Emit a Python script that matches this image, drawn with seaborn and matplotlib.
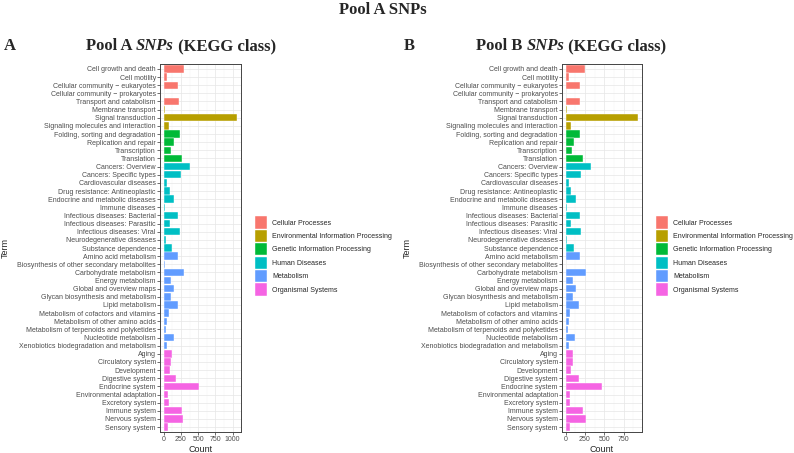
import matplotlib.pyplot as plt
import numpy as np
import pandas as pd
import seaborn as sns
from matplotlib.patches import Patch
from matplotlib.ticker import MultipleLocator

# KEGG class terms, in plotting order (top to bottom)
cellular = ["Cell growth and death", "Cell motility", "Cellular community \u2212 eukaryotes",
            "Cellular community \u2212 prokaryotes", "Transport and catabolism"]
environmental = ["Membrane transport", "Signal transduction", "Signaling molecules and interaction"]
genetic = ["Folding, sorting and degradation", "Replication and repair", "Transcription", "Translation"]
human = ["Cancers: Overview", "Cancers: Specific types", "Cardiovascular diseases",
         "Drug resistance: Antineoplastic", "Endocrine and metabolic diseases", "Immune diseases",
         "Infectious diseases: Bacterial", "Infectious diseases: Parasitic", "Infectious diseases: Viral",
         "Neurodegenerative diseases", "Substance dependence"]
metabolism = ["Amino acid metabolism", "Biosynthesis of other secondary metabolites",
              "Carbohydrate metabolism", "Energy metabolism", "Global and overview maps",
              "Glycan biosynthesis and metabolism", "Lipid metabolism",
              "Metabolism of cofactors and vitamins", "Metabolism of other amino acids",
              "Metabolism of terpenoids and polyketides", "Nucleotide metabolism",
              "Xenobiotics biodegradation and metabolism"]
organismal = ["Aging", "Circulatory system", "Development", "Digestive system", "Endocrine system",
              "Environmental adaptation", "Excretory system", "Immune system", "Nervous system",
              "Sensory system"]

class_names = ["Cellular Processes", "Environmental Information Processing",
               "Genetic Information Processing", "Human Diseases", "Metabolism", "Organismal Systems"]
class_terms = [cellular, environmental, genetic, human, metabolism, organismal]

# counts
counts_a = [300, 50, 208, 8, 227,
            15, 1068, 78,
            237, 145, 112, 271,
            377, 246, 53, 87, 150, 15, 208, 87, 242, 29, 116,
            208, 15, 300, 107, 155, 102, 208, 73, 53, 29, 155, 53,
            126, 112, 87, 179, 512, 63, 73, 261, 280, 68]
counts_b = [248, 47, 188, 6, 192,
            13, 940, 73,
            188, 111, 85, 222,
            333, 205, 47, 68, 137, 13, 184, 73, 200, 21, 107,
            188, 8, 265, 90, 132, 90, 171, 56, 38, 26, 124, 43,
            98, 94, 73, 171, 466, 51, 60, 222, 261, 60]

colors = ["#F8766D", "#B79F00", "#00BA38", "#00BFC4", "#619CFF", "#F564E3"]

terms = [t for group in class_terms for t in group]
classes = [c for c, group in zip(class_names, class_terms) for _ in group]
palette = dict(zip(class_names, colors))

sns.set_theme(style="whitegrid")
plt.rcParams["font.family"] = ["Liberation Sans", "DejaVu Sans"]

W, H = 794, 453
fig = plt.figure(figsize=(W / 100, H / 100), dpi=100)


def px(x0, y0, x1, y1):
    """pixel box -> figure fraction rect"""
    return [x0 / W, 1 - y1 / H, (x1 - x0) / W, (y1 - y0) / H]


def draw_panel(rect, counts, term_x):
    ax = fig.add_axes(rect)
    df = pd.DataFrame({"Term": terms, "Count": counts, "Class": classes})
    sns.barplot(data=df, x="Count", y="Term", hue="Class", order=terms,
                hue_order=class_names, palette=palette, dodge=False, width=0.9,
                saturation=1, edgecolor="white", linewidth=0.3, legend=False, ax=ax)
    top = max(counts)
    ax.set_xlim(-0.05 * top, top * 1.05)
    ax.set_ylim(len(terms) - 0.4, -0.6)
    ax.xaxis.set_major_locator(MultipleLocator(250))
    ax.xaxis.set_minor_locator(MultipleLocator(125))
    ax.grid(True, which="major", color="#E6E6E6", lw=0.5)
    ax.grid(True, which="minor", axis="x", color="#F2F2F2", lw=0.3)
    ax.set_axisbelow(True)
    for s in ax.spines.values():
        s.set_color("#444444")
        s.set_linewidth(0.7)
    ax.tick_params(axis="both", which="major", length=2, width=0.5, color="#333333",
                   labelsize=5, labelcolor="#4D4D4D", pad=1, bottom=True, left=True)
    ax.tick_params(axis="both", which="minor", length=0)
    ax.set_xlabel("Count", fontsize=6.5, labelpad=1)
    ax.set_ylabel("Term", fontsize=6.5)
    x0 = rect[0] * W
    ax.yaxis.set_label_coords((term_x - x0) / (rect[2] * W), 0.5)
    return ax


ax_a = draw_panel(px(160, 64, 241, 432), counts_a, 10)
ax_b = draw_panel(px(562, 64, 642, 432), counts_b, 412)

handles = [Patch(facecolor=c, edgecolor="white", lw=0.3) for c in colors]
for lx in [255, 656]:
    fig.legend(handles, class_names, loc="center left", bbox_to_anchor=(lx / W, 1 - 256 / H),
               frameon=False, fontsize=5, handlelength=1.75, handleheight=2.35,
               labelspacing=0.15, handletextpad=0.7, borderpad=0, borderaxespad=0)

serif = ["Liberation Serif", "DejaVu Serif"]
fig.text(383 / W, 1 - 14 / H, "Pool A SNPs", ha="center", va="baseline",
         fontsize=12, fontweight="bold", family=serif)


def subtitle(x, letter, pool):
    y = 1 - 50 / H
    fig.text((x - 82 if letter == "A" else x - 72) / W, y, letter, va="baseline",
             fontsize=12, fontweight="bold", family=serif)
    t1 = fig.text(x / W, y, f"Pool {pool} ", va="baseline", fontsize=12,
                  fontweight="bold", family=serif)
    t2 = fig.text(0, 0, "SNPs", va="baseline", fontsize=12, fontweight="bold",
                  fontstyle="italic", family=serif)
    t3 = fig.text(0, 0, " (KEGG class)", va="baseline", fontsize=12,
                  fontweight="bold", family=serif)
    return t1, t2, t3


def chain(parts):
    fig.canvas.draw()
    r = fig.canvas.get_renderer()
    for prev, cur in zip(parts[:-1], parts[1:]):
        bb = prev.get_window_extent(renderer=r)
        cur.set_position((bb.x1 / fig.bbox.width, prev.get_position()[1]))


parts_a = subtitle(86, "A", "A")
parts_b = subtitle(476, "B", "B")
chain(parts_a)
chain(parts_b)

fig.savefig("out.png", dpi=100)
